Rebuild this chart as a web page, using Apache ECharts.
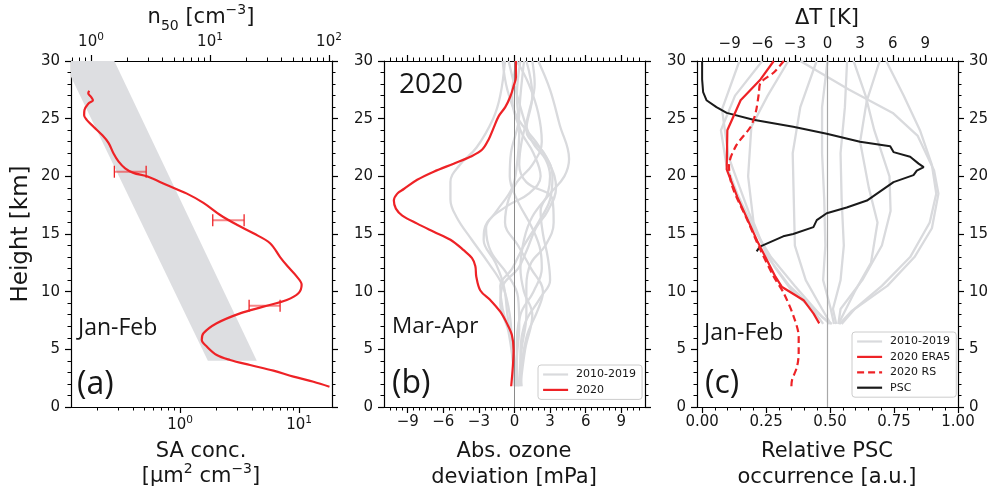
<!DOCTYPE html>
<html><head><meta charset="utf-8">
<script src="https://cdn.jsdelivr.net/npm/echarts@6/dist/echarts.min.js"></script>
<style>html,body{margin:0;padding:0;background:#fff}#c{width:992px;height:495px}</style>
</head><body><div id="c"></div>
<script>
// ---------- Panel (a): SA concentration ----------
const saHeight = [27.43,27.2,26.9,26.6,26.3,25.75,25.3,24.9,24.3,23.6,22.9,22.0,21.3,20.7,20.3,20.0,19.25,18.5,17.7,16.65,15.8,15.06,14.2,13.0,12.2,11.3,10.6,9.86,9.28,8.7,8.12,7.26,6.39,5.81,5.23,4.51,4.08,3.64,3.15,2.63,2.19,1.76];
const saConc   = [0.172,0.169,0.178,0.185,0.169,0.157,0.156,0.164,0.187,0.220,0.250,0.275,0.303,0.345,0.405,0.525,0.773,1.14,1.57,2.17,3.0,4.13,5.70,6.92,8.0,9.57,10.5,9.87,7.88,5.01,3.19,2.03,1.57,1.52,1.68,2.03,2.63,3.87,6.08,8.96,13.2,18.0];
const errHeight = [20.4, 16.2, 8.78];
const errLow    = [0.280, 1.88, 3.80];
const errHigh   = [0.518, 3.45, 6.92];
const bandConc   = [0.1045, 0.280, 4.41, 1.71];
const bandHeight = [30, 30, 4, 4];
const saRange  = [0.121, 18.9];
const n50Range = [0.679, 106];
const saMajor  = [1, 10];
const saMinor  = [0.2,0.3,0.4,0.5,0.6,0.7,0.8,0.9,2,3,4,5,6,7,8,9];
const n50Major = [1, 10, 100];
const n50Minor = [0.7,0.8,0.9,2,3,4,5,6,7,8,9,20,30,40,50,60,70,80,90];

// ---------- Panel (b): ozone deviation ----------
const ozHeight = [30,28.6,27.8,26.9,26.0,25.2,24.2,23.2,22.3,21.7,21.1,20.4,19.7,18.9,18.5,17.9,17.2,16.6,15.9,15.2,14.5,13.6,12.9,12.2,11.3,10.1,9.27,8.26,7.25,6.24,4.95,3.5,1.8];
const oz2020   = [0.12,0.12,-0.08,-0.36,-0.78,-1.34,-1.76,-2.18,-2.74,-3.72,-5.13,-6.81,-8.20,-9.33,-9.88,-10.17,-10.0,-9.46,-8.2,-6.81,-5.40,-4.29,-3.58,-3.30,-3.22,-2.88,-2.04,-1.20,-0.64,-0.22,-0.08,-0.14,-0.28];
const ozClimCurves = [
  [[-0.8,30],[-1.2,27],[-1.8,25],[-3.2,22.5],[-4.6,21],[-5.4,19.5],[-5.4,18],[-4.9,16.5],[-3.6,14.5],[-2.2,12.5],[-1.0,10.5],[-0.4,8],[-0.2,5],[0,1.8]],
  [[0.2,30],[-0.2,27],[0.5,24],[1.6,22],[2.2,20],[1.2,18.5],[-0.5,17.5],[-2.3,16],[-2.6,14.5],[-1.6,12.5],[-0.9,10.5],[-0.6,8],[-0.2,5],[0.1,1.8]],
  [[0.5,30],[0.2,27],[0.4,24],[0.2,21],[-0.2,19],[-1.5,17],[-2.4,15.5],[-2.0,13.5],[-0.6,11.5],[0.3,9.5],[0.4,7],[0.2,4],[0.3,1.8]],
  [[1.0,30],[1.5,27],[1.0,24],[2.5,22],[3.2,20],[3.0,18],[2.0,16],[0.8,14],[-0.2,12],[-1.2,10.5],[-1.0,8.5],[-0.3,6],[0.3,1.8]],
  [[1.5,30],[1.7,28],[1.2,25.5],[0.6,23],[0.4,21],[1.0,19.5],[3.2,18],[3.3,16],[2.6,14],[1.4,12.5],[1.0,10.5],[1.0,8],[0.6,5],[0.4,1.8]],
  [[2.0,30],[3.0,27.5],[3.8,24.5],[4.6,21.5],[4.2,20],[3.0,18.5],[1.5,16.5],[0.8,14.5],[0.5,12],[0.8,10],[1.5,8],[0.9,5],[0.5,1.8]],
  [[-0.5,30],[0.5,26],[1.5,23],[2.6,21.5],[3.0,20],[2.8,18.5],[2.2,17],[2.4,15],[2.8,13],[3.0,11],[2.2,9.5],[0.8,7],[0.5,4],[0.6,1.8]],
  [[0.8,30],[0.5,27],[0.3,24.5],[-0.3,22],[-0.4,20],[0.2,18],[1.5,15.5],[2.2,13.5],[2.3,12],[1.6,10],[0.5,8],[0.2,5],[0.2,1.8]],
  [[-1.0,30],[-0.6,27.5],[0.3,25],[1.8,23],[3.0,21],[3.5,19],[2.8,17],[1.8,15.5],[1.0,13.5],[0.3,12],[-1.0,10.5],[-1.2,9],[-0.5,6.5],[0.1,1.8]],
  [[0.2,30],[1.2,28],[2.0,25.5],[2.3,23],[1.5,21],[0.2,19.5],[-0.5,18],[-0.8,16],[0.3,14],[1.4,12],[2.4,10],[2.0,8.5],[1.0,6],[0.4,1.8]]
];
const ozRange = [-11, 11];
const ozMajor = [-9,-6,-3,0,3,6,9];

// ---------- Panel (c): temperature deviation and PSC ----------
const era5Height = [30,28.4,26.6,24.0,20.6,18.2,14.4,11.3,10.4,9.26,8.1,7.25];
const era5DT     = [-4.94,-6.16,-7.99,-9.21,-9.27,-8.29,-6.46,-4.79,-4.18,-2.2,-1.28,-0.76];
const rsHeight = [30,29,28.1,27.2,25.5,24.3,22.6,20.9,19.1,16.2,13.6,11.3,9.86,7.84,6.1,4.7,3.5,2.34,1.8];
const rsDT     = [-4.02,-4.94,-6.16,-6.31,-6.61,-7.07,-8.44,-9.06,-8.75,-7.37,-6.16,-4.94,-4.02,-3.11,-2.65,-2.65,-2.8,-3.26,-3.32];
const pscHeight = [30,28.4,27.3,26.6,26.0,25.5,24.9,24.3,23.7,23.0,22.6,22.1,21.7,21.1,20.8,20.5,20.1,19.5,18.7,17.9,17.3,16.8,16.2,15.6,15.0,14.8,13.9,13.5];
const pscOcc    = [0.0,0.0,0.004,0.017,0.056,0.096,0.2,0.356,0.487,0.617,0.735,0.748,0.813,0.846,0.866,0.839,0.826,0.748,0.696,0.644,0.565,0.487,0.448,0.435,0.356,0.317,0.226,0.213];
const dtClimCurves = [
  [[-8.1,30],[-9.7,25.8],[-9.1,21.7],[-8.1,19.1],[-7.2,16.8],[-6.2,14.5],[-4.9,12.2],[-3.3,10.1],[-1.3,8.4],[-0.4,7.2]],
  [[-3.6,30],[-5.5,27],[-7.0,24.3],[-7.3,20],[-6.8,16],[-5.5,13],[-3.5,10.5],[-1.0,8.3],[0.2,7.2]],
  [[-1.0,30],[-2.5,26],[-3.2,22],[-3.1,18],[-3.0,14],[-2.0,11],[-0.5,8.5],[0.3,7.2]],
  [[0.0,30],[-0.5,26],[-0.5,22],[-0.3,18],[-0.2,14],[-0.4,11],[0.3,8.5],[0.6,7.2]],
  [[1.8,30],[1.6,26],[1.2,22],[1.3,18],[1.5,14],[1.2,11],[0.5,8.5],[0.8,7.2]],
  [[2.4,30],[3.5,27],[4.3,24],[5.7,20],[5.8,17],[5.0,14],[3.2,11],[1.2,8.5],[1.0,7.2]],
  [[4.8,30],[3.6,26.5],[3.0,23],[3.8,19],[4.6,16],[4.0,12.5],[2.5,10],[1.0,7.2]],
  [[5.4,30],[7.0,27],[8.5,24],[9.6,21],[10.0,18.5],[9.4,16],[7.6,13],[5.0,10.5],[2.5,8.5],[1.3,7.2]],
  [[-2.5,30],[2.0,27.5],[6.0,25.5],[8.3,23.5],[9.8,20.5],[10.2,18.5],[9.6,15.5],[8.0,13],[5.5,10.5],[2.2,8.3],[1.1,7.2]],
  [[-6.0,30],[-8.5,27],[-9.8,24],[-9.3,21],[-8.3,18.5],[-6.8,15.5],[-5.2,13],[-3.0,10.5],[-0.5,7.8],[0.4,7.2]]
];
const pscRange = [-0.02, 1.0];
const pscMajor = [0, 0.25, 0.5, 0.75, 1.0];
const dtRange = [-12, 12];
const dtMajor = [-9,-6,-3,0,3,6,9];
const heightTicks = [0,5,10,15,20,25,30];

// ---------- helpers ----------
const FONT = 'DejaVu Sans';
const ANN = 'Open Sans';
const INK = '#161616';
const RED = '#ee2226';
const GRAY = '#d9dadd';
const lg = v => Math.log10(v);
const logFmt = v => '{b|10}{s|' + Math.round(v) + '}';
const logRich = {b:{fontSize:15, fontFamily:FONT, color:INK, lineHeight:20, verticalAlign:'middle'},
                 s:{fontSize:10.5, fontFamily:FONT, color:INK, lineHeight:12, verticalAlign:'top'}};
const minusFmt = v => (v < 0 ? '\u2212' + Math.abs(v) : String(v));
function range(a, b, step) { const out = []; for (let v = a; v <= b + 1e-9; v += step) out.push(+v.toFixed(4)); return out; }

function xMajor(grid, pos, min, max, ticks, fmt, showLabels, rich) {
  return {type:'value', gridIndex:grid, position:pos, min:min, max:max,
    axisLine:{show:true, onZero:false, lineStyle:{color:'#000', width:1.2}},
    axisTick:{show:true, inside:false, length:6, lineStyle:{color:'#000', width:1.2}, customValues:ticks},
    axisLabel:{show:showLabels, customValues:ticks, formatter:fmt, fontSize:15, fontFamily:FONT, color:INK,
      margin:pos==='top'?9:8, rich:rich || undefined},
    splitLine:{show:false}, minorTick:{show:false}, axisPointer:{show:false}};
}
function xMinor(grid, pos, min, max, ticks) {
  return {type:'value', gridIndex:grid, position:pos, min:min, max:max,
    axisLine:{show:false, onZero:false},
    axisTick:{show:true, inside:false, length:3.5, lineStyle:{color:'#000', width:1}, customValues:ticks},
    axisLabel:{show:false}, splitLine:{show:false}, axisPointer:{show:false}};
}
function yAx(grid, pos, showLabels) {
  return {type:'value', gridIndex:grid, position:pos, min:0, max:30,
    axisLine:{show:true, onZero:false, lineStyle:{color:'#000', width:1.2}},
    axisTick:{show:true, length:6, lineStyle:{color:'#000', width:1.2}, customValues:heightTicks},
    minorTick:{show:true, splitNumber:5, length:3.5, lineStyle:{color:'#000', width:1}},
    axisLabel:{show:showLabels, customValues:heightTicks, fontSize:15, fontFamily:FONT, color:INK, margin:11},
    interval:5, splitLine:{show:false}, axisPointer:{show:false}};
}
function line(name, pts, xi, yi, color, width, extra) {
  return Object.assign({type:'line', name:name, xAxisIndex:xi, yAxisIndex:yi, data:pts,
    symbol:'none', showSymbol:false, lineStyle:{color:color, width:width}, itemStyle:{color:color},
    animation:false, silent:true, emphasis:{disabled:true}, clip:true}, extra || {});
}

const grids = [
  {left:71, top:61, width:261, height:346},
  {left:384, top:61, width:261, height:346},
  {left:697, top:61, width:261, height:346}
];

const xAxes = [
  xMajor(0,'bottom', lg(saRange[0]), lg(saRange[1]), saMajor.map(lg), logFmt, true, logRich),   //0
  xMinor(0,'bottom', lg(saRange[0]), lg(saRange[1]), saMinor.map(lg)),                          //1
  xMajor(0,'top', lg(n50Range[0]), lg(n50Range[1]), n50Major.map(lg), logFmt, true, logRich),    //2
  xMinor(0,'top', lg(n50Range[0]), lg(n50Range[1]), n50Minor.map(lg)),                          //3
  xMajor(1,'bottom', ozRange[0], ozRange[1], ozMajor, minusFmt, true),                          //4
  xMinor(1,'bottom', ozRange[0], ozRange[1], range(-10.5, 10.5, 0.5)),                          //5
  xMajor(1,'top', ozRange[0], ozRange[1], ozMajor, minusFmt, false),                            //6
  xMinor(1,'top', ozRange[0], ozRange[1], range(-10.5, 10.5, 0.5)),                             //7
  xMajor(2,'bottom', pscRange[0], pscRange[1], pscMajor, v => v.toFixed(2), true),              //8
  xMinor(2,'bottom', pscRange[0], pscRange[1], range(0, 1, 0.05)),                              //9
  xMajor(2,'top', dtRange[0], dtRange[1], dtMajor, minusFmt, true),                             //10
  xMinor(2,'top', dtRange[0], dtRange[1], range(-11.5, 11.5, 0.5))                              //11
];
const yAxes = [
  yAx(0,'left',true), yAx(0,'right',false),
  yAx(1,'left',true), yAx(1,'right',false),
  yAx(2,'left',true), yAx(2,'right',true)
];

const series = [];
// (a) gray band
series.push({type:'custom', xAxisIndex:0, yAxisIndex:0, clip:true, silent:true, animation:false, z:1,
  data: bandConc.map((c,i) => [lg(c), bandHeight[i]]),
  renderItem: function(params, api) {
    if (params.dataIndex !== 0) return;
    const pts = bandConc.map((c,i) => api.coord([lg(c), bandHeight[i]]));
    const cs = params.coordSys;
    return {type:'polygon', shape:{points:pts}, style:{fill:'#dddee1'},
      clipPath:{type:'rect', shape:{x:cs.x, y:cs.y, width:cs.width, height:cs.height}}};
  }});
// (a) SA line
series.push(line('SA', saConc.map((c,i) => [lg(c), saHeight[i]]), 0, 0, RED, 2.2, {smooth:0.35, z:3}));
// (a) error bars
series.push({type:'custom', xAxisIndex:0, yAxisIndex:0, silent:true, animation:false, z:4,
  data: errHeight.map((h,i) => [lg(errLow[i]), lg(errHigh[i]), h]),
  encode:{x:[0,1], y:2},
  renderItem: function(params, api) {
    const p1 = api.coord([api.value(0), api.value(2)]);
    const p2 = api.coord([api.value(1), api.value(2)]);
    const cap = 6;
    return {type:'group', children:[
      {type:'line', shape:{x1:p1[0], y1:p1[1], x2:p2[0], y2:p2[1]}, style:{stroke:'rgba(238,34,38,0.55)', lineWidth:2}},
      {type:'line', shape:{x1:p1[0], y1:p1[1]-cap, x2:p1[0], y2:p1[1]+cap}, style:{stroke:RED, lineWidth:1.3}},
      {type:'line', shape:{x1:p2[0], y1:p2[1]-cap, x2:p2[0], y2:p2[1]+cap}, style:{stroke:RED, lineWidth:1.3}}
    ]};
  }});
// (b) climatology gray
ozClimCurves.forEach(c => series.push(line('2010-2019', c, 4, 2, GRAY, 2.3, {smooth:0.4, z:2})));
// (b) zero line
series.push(line('', [[0,0],[0,30]], 4, 2, '#8a8a8a', 1, {z:3}));
// (b) 2020
series.push(line('2020', oz2020.map((v,i) => [v, ozHeight[i]]), 4, 2, RED, 2.2, {smooth:0.35, z:5}));
// (c) climatology gray (top axis)
dtClimCurves.forEach(c => series.push(line('2010-2019', c, 10, 4, GRAY, 2.3, {z:2})));
// (c) zero line
series.push(line('', [[0,0],[0,30]], 10, 4, '#a8a8a8', 1.2, {z:3}));
// (c) PSC
series.push(line('PSC', pscOcc.map((v,i) => [v, pscHeight[i]]), 8, 4, '#1a1a1a', 2, {z:4}));
// (c) ERA5 & RS
series.push(line('2020 ERA5', era5DT.map((v,i) => [v, era5Height[i]]), 10, 4, RED, 2.2, {z:5}));
series.push(line('2020 RS', rsDT.map((v,i) => [v, rsHeight[i]]), 10, 4, RED, 2.2, {z:5, smooth:0.3, lineStyle:{color:RED, width:2.2, type:[7,4]}}));

const legendBase = {orient:'vertical', itemWidth:25, itemHeight:12, itemGap:4.4, padding:[4,6,4,4],
  borderColor:'#cccccc', borderWidth:1, borderRadius:3, backgroundColor:'rgba(255,255,255,0.85)',
  selectedMode:false,
  itemStyle:{opacity:0, color:'rgba(0,0,0,0)', borderWidth:0},
  lineStyle:{width:2.2},
  textStyle:{fontSize:11, fontFamily:FONT, color:INK, padding:[0,0,0,3]}};

const T = (text, x, y, size, fam, extra) => Object.assign({type:'text', x:x, y:y, silent:true,
  style:Object.assign({text:text, fontSize:size, fontFamily:fam, fill:INK, align:'center', verticalAlign:'middle'}, extra || {})});
const titleRich = {
  m:{fontSize:21, fontFamily:FONT, fill:INK, lineHeight:30, verticalAlign:'middle'},
  sup:{fontSize:14, fontFamily:FONT, fill:INK, lineHeight:15, verticalAlign:'top'},
  sub:{fontSize:14, fontFamily:FONT, fill:INK, lineHeight:20, verticalAlign:'bottom'}
};

const graphic = [
  T('{m|n}{sub|50}{m| [cm}{sup|\u22123}{m|]}', 201, 18, 21, FONT, {rich:titleRich}),
  T('\u0394T [K]', 827, 19, 21, FONT),
  Object.assign(T('Height [km]', 21, 234, 23, FONT), {rotation:Math.PI/2}),
  T('SA conc.', 201, 452, 21, FONT),
  T('{m|[\u00b5m}{sup|2}{m| cm}{sup|\u22123}{m|]}', 201, 477, 21, FONT, {rich:titleRich}),
  T('Abs. ozone', 514, 452, 21, FONT),
  T('deviation [mPa]', 514, 478, 21, FONT),
  T('Relative PSC', 827, 452, 21, FONT),
  T('occurrence [a.u.]', 827, 478, 21, FONT),
  T('Jan-Feb', 78, 328, 23, ANN, {align:'left'}),
  T('(a)', 77, 385, 32, ANN, {align:'left'}),
  T('2020', 399, 85, 28, ANN, {align:'left'}),
  T('Mar-Apr', 392, 327, 22.5, ANN, {align:'left'}),
  T('(b)', 392, 384, 32, ANN, {align:'left'}),
  T('Jan-Feb', 704, 333, 23, ANN, {align:'left'}),
  T('(c)', 705, 384, 32, ANN, {align:'left'})
];

const chart = echarts.init(document.getElementById('c'), null, {renderer:'canvas', width:992, height:495});
chart.setOption({
  backgroundColor:'#ffffff',
  animation:false,
  grid:grids,
  xAxis:xAxes,
  yAxis:yAxes,
  legend:[
    Object.assign({}, legendBase, {left:538, top:365, data:['2010-2019','2020']}),
    Object.assign({}, legendBase, {left:852, top:332, data:['2010-2019','2020 ERA5','2020 RS','PSC']})
  ],
  series:series,
  graphic:graphic
});
</script></body></html>
